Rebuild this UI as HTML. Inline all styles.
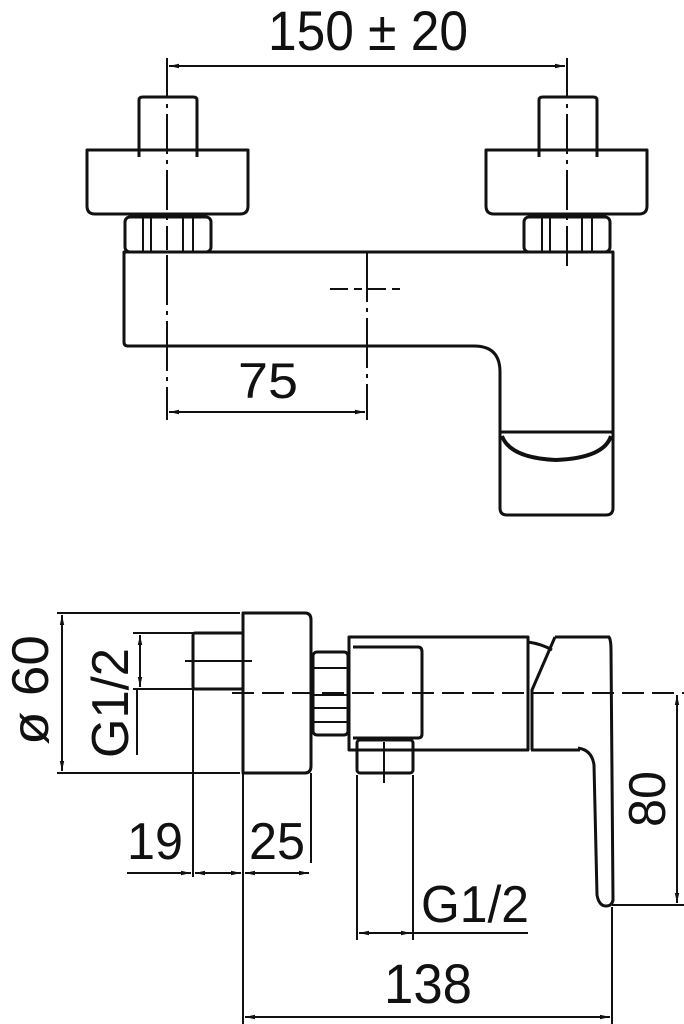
<!DOCTYPE html>
<html><head><meta charset="utf-8"><style>
html,body{margin:0;padding:0;background:#fff}
svg{display:block}
text{font-family:"Liberation Sans",sans-serif;fill:#111}
</style></head><body>
<svg width="684" height="1024" viewBox="0 0 684 1024" xmlns="http://www.w3.org/2000/svg">
<defs>
<marker id="a" viewBox="0 0 10 6" refX="10" refY="3" markerWidth="10" markerHeight="6" orient="auto-start-reverse" markerUnits="userSpaceOnUse"><path d="M0,0.8 L10,3 L0,5.2z" fill="#111"/></marker>
</defs>
<g fill="none" stroke="#111" stroke-width="3" stroke-linejoin="round">
<path d="M139,157 V100 Q139,97 143,97 H193 Q197,97 197,100 V157"/>
<path d="M87,150 H248 V206 Q248,214 240,214 H95 Q87,214 87,206 Z"/>
<rect x="125" y="217" width="86" height="35" rx="5"/>
<path d="M143,217 V252 M151,217 V252 M183,217 V252 M193,217 V252" stroke-width="2"/>
<path d="M539,157 V100 Q539,97 543,97 H593 Q597,97 597,100 V157"/>
<path d="M486,150 H647 V206 Q647,214 639,214 H494 Q486,214 486,206 Z"/>
<rect x="524" y="217" width="86" height="35" rx="5"/>
<path d="M542,217 V252 M550,217 V252 M582,217 V252 M592,217 V252" stroke-width="2"/>
<path d="M124,252 H613 V508 Q613,515 606,515 H507 Q500,515 500,508 V372 Q500,346 474,346 H128 Q124,346 124,342 Z"/>
<path d="M500,432 H613"/>
<path d="M502,436 Q510,458 556,460 Q604,458 611,436" stroke-width="4"/>
<rect x="193" y="633" width="50" height="56" rx="2"/>
<path d="M243,613 H305 Q311,613 311,620 V766 Q311,773 305,773 H243 Z"/>
<rect x="313" y="652" width="35" height="83" rx="4"/>
<path d="M313,668 H348 M313,695 H348 M313,708 H348 M313,722 H348" stroke-width="2"/>
<rect x="349" y="637" width="179" height="113"/>
<path d="M353,647 H418 Q422,647 422,652 V734 Q422,738 418,738 H353"/>
<rect x="357" y="740" width="56" height="33" rx="3"/>
<path d="M528,642 Q542,644 552,650"/>
<path d="M555,637 H609 Q611,640 611,650 L613,900 Q612,906 606,906 Q599,906 597,895 L594,765 Q592,750 578,748 M531,750 H580 M555,637 L532,690 V750"/>
</g>
<g fill="none" stroke="#111" stroke-width="2">
<path d="M167,58 V250" stroke-dasharray="40,6,4,6"/>
<path d="M567,58 V270" stroke-dasharray="40,6,4,6"/>
<path d="M167,255 V420 M367,252 V420" stroke-dasharray="50,6,4,6"/>
<path d="M330,289 H404" stroke-dasharray="18,6,8,6"/>
<path d="M169,66 H565" marker-start="url(#a)" marker-end="url(#a)"/>
<path d="M169,412 H365" marker-start="url(#a)" marker-end="url(#a)"/>
<path d="M57,613 H240 M57,773 H240"/>
<path d="M62,615 V771" marker-start="url(#a)" marker-end="url(#a)"/>
<path d="M133,633 H195 M133,689 H195"/>
<path d="M140,635 V687" marker-start="url(#a)" marker-end="url(#a)"/>
<path d="M137,689 V755"/>
<path d="M185,661 H252 M384,742 V783"/>
<path d="M232,693 H684" stroke-dasharray="22,8"/>
<path d="M612,905 H684"/>
<path d="M677,695 V903" marker-start="url(#a)" marker-end="url(#a)"/>
<path d="M193,689 V877 M243,773 V1024 M311,773 V863 M612,907 V1024"/>
<path d="M127,873 H191" marker-end="url(#a)"/>
<path d="M195,873 H241" marker-start="url(#a)" marker-end="url(#a)"/>
<path d="M245,873 H309" marker-start="url(#a)" marker-end="url(#a)"/>
<path d="M357,775 V940 M413,775 V940"/>
<path d="M359,933 H411" marker-start="url(#a)" marker-end="url(#a)"/>
<path d="M411,933 H528"/>
<path d="M245,1017 H610" marker-start="url(#a)" marker-end="url(#a)"/>
</g>
<text x="268" y="50" font-size="56" textLength="200" lengthAdjust="spacingAndGlyphs">150 ± 20</text>
<text x="238" y="398" font-size="50" textLength="60" lengthAdjust="spacingAndGlyphs">75</text>
<text x="127" y="859" font-size="52" textLength="56" lengthAdjust="spacingAndGlyphs">19</text>
<text x="249" y="859" font-size="52" textLength="56" lengthAdjust="spacingAndGlyphs">25</text>
<text x="421" y="922" font-size="52" textLength="108" lengthAdjust="spacingAndGlyphs">G1/2</text>
<text x="384" y="1003" font-size="56" textLength="88" lengthAdjust="spacingAndGlyphs">138</text>
<text transform="translate(48,745) rotate(-90)" font-size="52" textLength="110" lengthAdjust="spacingAndGlyphs">ø 60</text>
<text transform="translate(128,758) rotate(-90)" font-size="52" textLength="110" lengthAdjust="spacingAndGlyphs">G1/2</text>
<text transform="translate(665,827) rotate(-90)" font-size="52" textLength="56" lengthAdjust="spacingAndGlyphs">80</text>
</svg>
</body></html>
